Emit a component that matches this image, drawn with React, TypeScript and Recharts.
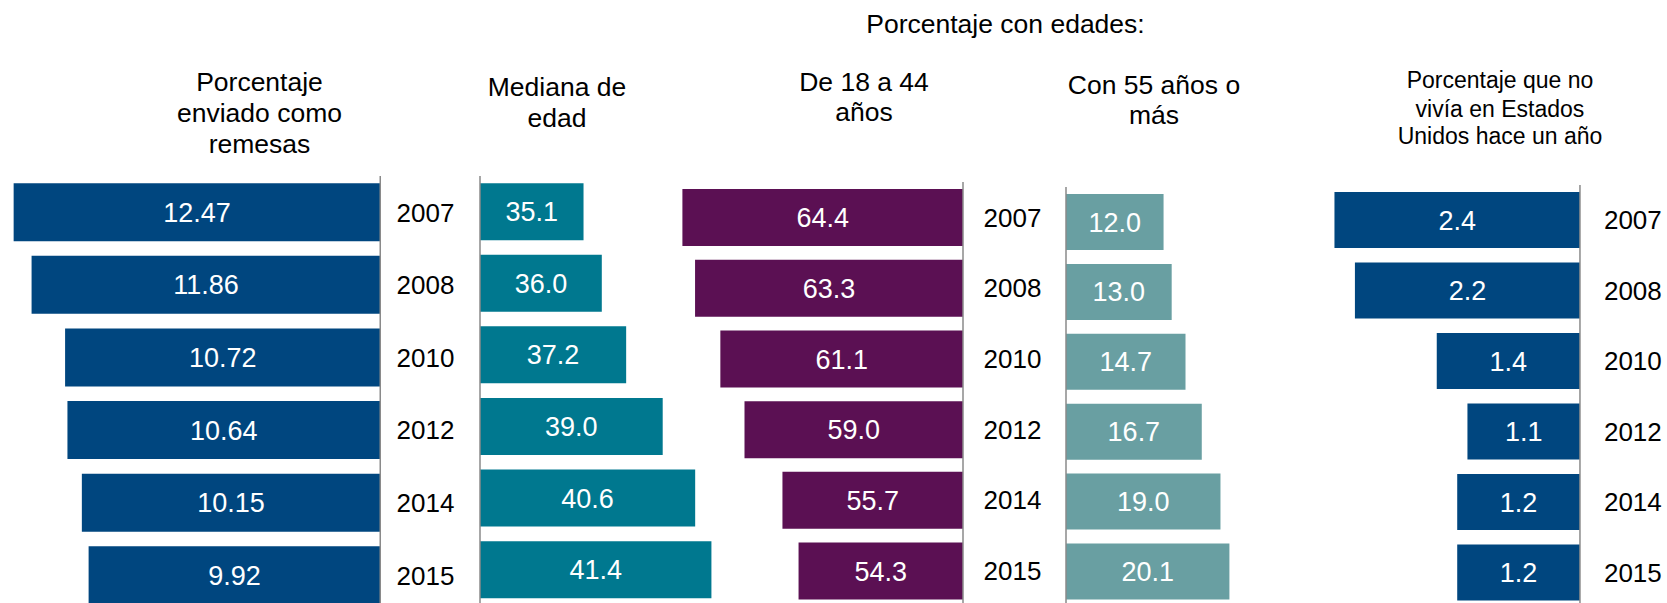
import { BarChart, Bar, XAxis, YAxis, LabelList } from 'recharts';

// years shared by every panel
const years = ['2007', '2008', '2010', '2012', '2014', '2015'];

// series values
const remesas = [12.47, 11.86, 10.72, 10.64, 10.15, 9.92];
const medianaEdad = [35.1, 36.0, 37.2, 39.0, 40.6, 41.4];
const edad18a44 = [64.4, 63.3, 61.1, 59.0, 55.7, 54.3];
const edad55mas = [12.0, 13.0, 14.7, 16.7, 19.0, 20.1];
const noViviaEEUU = [2.4, 2.2, 1.4, 1.1, 1.2, 1.2];

// header texts
const topTitle = 'Porcentaje con edades:';
const titleRemesas = ['Porcentaje', 'enviado como', 'remesas'];
const titleMediana = ['Mediana de', 'edad'];
const title18a44 = ['De 18 a 44', 'años'];
const title55mas = ['Con 55 años o', 'más'];
const titleNoVivia = ['Porcentaje que no', 'vivía en Estados', 'Unidos hace un año'];

const FONT = '"Liberation Sans", Arial, Helvetica, sans-serif';
const AXIS_GRAY = '#8a8a8a';

type PanelProps = {
  values: number[];
  decimals: number;
  color: string;
  axisX: number;
  top: number;
  pitch: number;
  ppu: number;
  domain: [number, number];
  grow: 'left' | 'right';
  yearGap?: number;
};

function Panel({ values, decimals, color, axisX, top, pitch, ppu, domain, grow, yearGap = 16 }: PanelProps) {
  const data = years.map((year, i) => ({ year, value: values[i] }));
  const plotW = (domain[1] - domain[0]) * ppu;
  const plotH = pitch * years.length;
  const leftGrow = grow === 'left';
  const axisW = leftGrow ? 90 : 2;
  const left = leftGrow ? axisX - plotW : axisX - axisW;

  return (
    <div style={{ position: 'absolute', left, top }}>
      <BarChart
        width={plotW + axisW}
        height={plotH}
        data={data}
        layout="vertical"
        margin={{ top: 0, right: 0, bottom: 0, left: 0 }}
        barCategoryGap="10%"
      >
        <XAxis type="number" domain={domain} reversed={leftGrow} hide allowDataOverflow />
        <YAxis
          type="category"
          dataKey="year"
          orientation={leftGrow ? 'right' : 'left'}
          width={axisW}
          interval={0}
          axisLine={{ stroke: AXIS_GRAY, strokeWidth: 1.5 }}
          tickLine={false}
          tickSize={0}
          tickMargin={yearGap}
          tick={leftGrow ? { fill: '#000', fontSize: 26 } : false}
        />
        <Bar dataKey="value" fill={color} isAnimationActive={false}>
          <LabelList
            dataKey="value"
            position="center"
            fill="#fff"
            fontSize={27}
            formatter={(v: any) => Number(v).toFixed(decimals)}
          />
        </Bar>
      </BarChart>
    </div>
  );
}

function Title({ lines, x, ys, size = 26.5 }: { lines: string[]; x: number; ys: number[]; size?: number }) {
  return (
    <>
      {lines.map((t, i) => (
        <text key={i} x={x} y={ys[i]} textAnchor="middle" fontSize={size} fill="#000">
          {t}
        </text>
      ))}
    </>
  );
}

export default function App() {
  return (
    <div
      style={{
        position: 'fixed', left: 0, top: 0, width: 1667, height: 603,
        overflow: 'hidden', background: '#fff', fontFamily: FONT,
      }}
    >
      <svg width={1667} height={603} style={{ position: 'absolute', left: 0, top: 0 }}>
        <text x={1005.5} y={32.5} textAnchor="middle" fontSize={26.5} fill="#000">{topTitle}</text>
        <Title lines={titleRemesas} x={259.5} ys={[90.7, 121.7, 153.3]} />
        <Title lines={titleMediana} x={557} ys={[96, 127]} />
        <Title lines={title18a44} x={864} ys={[90.5, 121]} />
        <Title lines={title55mas} x={1154} ys={[93.5, 123.5]} />
        <Title lines={titleNoVivia} x={1500} ys={[87.5, 117, 143.5]} size={23} />
      </svg>

      <Panel values={remesas} decimals={2} color="#00467f" axisX={380} top={175.7}
        pitch={72.6} ppu={29.4} domain={[0, 12.9]} grow="left" yearGap={16.3} />
      <Panel values={medianaEdad} decimals={1} color="#00788f" axisX={480} top={176}
        pitch={71.6} ppu={20.3} domain={[30, 45]} grow="right" />
      <Panel values={edad18a44} decimals={1} color="#5b1053" axisX={962.7} top={182}
        pitch={70.7} ppu={11.5} domain={[40, 66]} grow="left" yearGap={20.6} />
      <Panel values={edad55mas} decimals={1} color="#699fa2" axisX={1065.7} top={186.5}
        pitch={69.9} ppu={8.13} domain={[0, 25]} grow="right" />
      <Panel values={noViviaEEUU} decimals={1} color="#00467f" axisX={1580.3} top={185}
        pitch={70.5} ppu={102.3} domain={[0, 2.6]} grow="left" yearGap={24} />
    </div>
  );
}
